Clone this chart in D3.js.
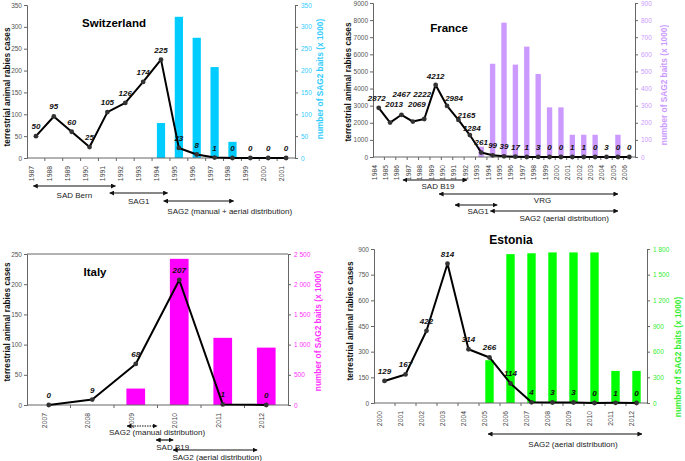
<!DOCTYPE html>
<html><head><meta charset="utf-8">
<script src="https://cdn.jsdelivr.net/npm/d3@7"></script>
<style>
body{margin:0;background:#fff}
svg{display:block}
text{font-family:"Liberation Sans",Arial,Helvetica,sans-serif}
</style>
</head><body>
<svg id="chart" width="685" height="461"></svg>
<script>
// ---------------- DATA ----------------
const swYears = ["1987","1988","1989","1990","1991","1992","1993","1994","1995","1996","1997","1998","1999","2000","2001"];
const swCases = [50,95,60,25,105,126,174,225,23,8,1,0,0,0,0];
const swBaits = [null,null,null,null,null,null,null,80,323,275,208,37,null,null,null];
const swLeftTicks = [0,50,100,150,200,250,300,350];
const swRightTicks = [0,50,100,150,200,250,300,350];
const swArrows = [["SAD Bern",1986.85,1991.45],["SAG1",1991.13,1994.37],["SAG2 (manual + aerial distribution)",1994.15,1998.07]];

const frYears = ["1984","1985","1986","1987","1988","1989","1990","1991","1992","1993","1994","1995","1996","1997","1998","1999","2000","2001","2002","2003","2004","2005","2006"];
const frCases = [2872,2013,2467,2069,2222,4212,2984,2165,1284,261,99,39,17,1,3,0,0,1,1,0,3,0,0];
const frBaits = [null,null,null,null,null,null,null,null,null,60,545,785,540,645,485,290,290,130,130,130,null,130,null];
const frLeftTicks = [0,1000,2000,3000,4000,5000,6000,7000,8000,9000];
const frRightTicks = [0,100,200,300,400,500,600,700,800,900];
const frArrows = [["SAD B19",1986.13,1991.75],["VRG",1989.3,2005.0],["SAG1",1990.7,1994.4],["SAG2 (aerial distribution)",1993.8,2005.0]];

const itYears = ["2007","2008","2009","2010","2011","2012"];
const itCases = [0,9,68,207,1,0];
const itBaits = [null,null,272,2420,1112,950];
const itLeftTicks = [0,50,100,150,200,250];
const itRightTicks = [0,500,1000,1500,2000,2500];
const itArrows = [["SAG2 (manual distribution)",2008.8,2009.49],["SAD B19",2009.47,2009.86],["SAG2 (aerial distribution)",2009.86,2011.79]];

const esYears = ["2000","2001","2002","2003","2004","2005","2006","2007","2008","2009","2010","2011","2012"];
const esCases = [129,167,422,814,314,266,114,4,3,3,0,1,0];
const esBaits = [null,null,null,null,null,500,1740,1750,1760,1760,1760,375,375];
const esLeftTicks = [0,150,300,450,600,750,900];
const esRightTicks = [0,300,600,900,1200,1500,1800];
const esArrows = [["SAG2 (aerial distribution)",2004.93,2012.26]];

// ---------------- LAYOUT / STYLE ----------------
const spaceLocale = d3.formatLocale({decimal:",", thousands:" ", grouping:[3], currency:["",""]});
const fmtSpace = spaceLocale.format(",d");
const fmtPlain = d3.format("d");

// label nudges (style): index -> [dx, dy]
const frLabelNudge = {0:[-2,-7],1:[4,-16],2:[0,-18],3:[4,-15],4:[-2,-22],5:[0,-6],6:[7,-5],7:[8,-2],8:[2,-4],9:[0,-7.5]};

const panels = [
  {title:"Switzerland", years:swYears, cases:swCases, baits:swBaits, lt:swLeftTicks, rt:swRightTicks, arrows:swArrows,
   color:"#00ccff", tickColor:"#33ccff", x0:27, x1:295, yTop:5, yBot:158, lMax:350, rMax:350, barFrac:0.46,
   titlePos:[114,27,11.5], lTitle:[7,87], rTitle:[320,79], topLine:false, fmtR:fmtPlain,
   arrowLayout:[[186,198,0],[193,204,0],[201,214,31]]},
  {title:"France", years:frYears, cases:frCases, baits:frBaits, lt:frLeftTicks, rt:frRightTicks, arrows:frArrows,
   color:"#cc99ff", tickColor:"#cc99ff", x0:373, x1:635, yTop:3, yBot:157, lMax:9000, rMax:900, barFrac:0.47,
   titlePos:[449,32,11.5], lTitle:[348,82], rTitle:[664,85], topLine:false, fmtR:fmtPlain, nudge:frLabelNudge,
   arrowLayout:[[180,189,3],[194,203,14],[205,214,2],[211,221,10]]},
  {title:"Italy", years:itYears, cases:itCases, baits:itBaits, lt:itLeftTicks, rt:itRightTicks, arrows:itArrows,
   color:"#ff00ff", tickColor:"#ff33ff", x0:27, x1:288, yTop:254, yBot:405, lMax:250, rMax:2500, barFrac:0.43,
   titlePos:[95,276,11.5], lTitle:[7,322], rTitle:[318,331], topLine:true, fmtR:fmtSpace, dotted:[0],
   arrowLayout:[[426,435,15],[440,450,8],[450,460,2]]},
  {title:"Estonia", years:esYears, cases:esCases, baits:esBaits, lt:esLeftTicks, rt:esRightTicks, arrows:esArrows,
   color:"#00ff00", tickColor:"#33ee33", x0:374, x1:647, yTop:249, yBot:403, lMax:900, rMax:1800, barFrac:0.4,
   titlePos:[511,244,12], lTitle:[350,321], rTitle:[678,357], topLine:false, fmtR:fmtSpace,
   arrowLayout:[[434,447,8]]}
];

const svg = d3.select("#chart");
const defs = svg.append("defs");
defs.append("marker").attr("id","ah").attr("viewBox","0 0 10 10").attr("refX",9).attr("refY",5)
  .attr("markerWidth",5).attr("markerHeight",5).attr("markerUnits","userSpaceOnUse").attr("orient","auto-start-reverse")
  .append("path").attr("d","M0,0L10,5L0,10z").attr("fill","#111");

const axisColor = "#666";

panels.forEach(p => {
  const g = svg.append("g");
  const x = d3.scaleBand().domain(p.years).range([p.x0, p.x1]);
  const first = +p.years[0], last = +p.years[p.years.length-1];
  const xf = d3.scaleLinear().domain([first-0.5, last+0.5]).range([p.x0, p.x1]);
  const yL = d3.scaleLinear().domain([0,p.lMax]).range([p.yBot,p.yTop]);
  const yR = d3.scaleLinear().domain([0,p.rMax]).range([p.yBot,p.yTop]);

  // bars
  const bw = x.bandwidth()*p.barFrac;
  g.selectAll("rect.bar").data(p.years.map((yr,i)=>({yr,v:p.baits[i]})).filter(d=>d.v!=null))
    .enter().append("rect")
    .attr("x", d=>x(d.yr)+x.bandwidth()/2-bw/2).attr("width", bw)
    .attr("y", d=>yR(d.v)).attr("height", d=>p.yBot-yR(d.v))
    .attr("fill", p.color);

  // axes
  const la = d3.axisLeft(yL).tickValues(p.lt).tickSize(3).tickPadding(2).tickFormat(fmtPlain);
  const lg = g.append("g").attr("transform",`translate(${p.x0},0)`).call(la);
  lg.select(".domain").attr("stroke",axisColor);
  lg.selectAll(".tick line").attr("stroke",axisColor);
  lg.selectAll("text").attr("font-size",6.5).attr("fill","#555").attr("font-family","Liberation Sans, Arial");

  const ra = d3.axisRight(yR).tickValues(p.rt).tickSize(3).tickPadding(3).tickFormat(p.fmtR);
  const rg = g.append("g").attr("transform",`translate(${p.x1},0)`).call(ra);
  rg.select(".domain").attr("stroke",axisColor);
  rg.selectAll(".tick line").attr("stroke",axisColor);
  rg.selectAll("text").attr("font-size",6.5).attr("fill",p.tickColor).attr("font-family","Liberation Sans, Arial");

  // bottom axis
  const ba = d3.axisBottom(x).tickSize(0).tickPadding(4);
  const bg = g.append("g").attr("transform",`translate(0,${p.yBot})`).call(ba);
  bg.select(".domain").attr("stroke",axisColor).attr("d",`M${p.x0},0H${p.x1}`);
  bg.selectAll("text").attr("font-size",6.8).attr("fill","#444").attr("font-family","Liberation Sans, Arial")
    .attr("transform","rotate(-90)").attr("text-anchor","end").attr("dx","-4").attr("dy","-0.3em").attr("y",0).attr("x",-4);
  // small boundary ticks
  g.selectAll("line.bt").data(p.years.slice(1)).enter().append("line")
    .attr("x1",d=>x(d)).attr("x2",d=>x(d)).attr("y1",p.yBot).attr("y2",p.yBot+3).attr("stroke",axisColor);

  if (p.topLine) g.append("line").attr("x1",p.x0).attr("x2",p.x1).attr("y1",p.yTop).attr("y2",p.yTop).attr("stroke",axisColor);

  // line
  const pts = p.years.map((yr,i)=>({yr,v:p.cases[i],i}));
  const line = d3.line().x(d=>x(d.yr)+x.bandwidth()/2).y(d=>yL(d.v));
  g.append("path").datum(pts).attr("d",line).attr("fill","none").attr("stroke","#000").attr("stroke-width",2).attr("stroke-linejoin","round");
  g.selectAll("circle.pt").data(pts).enter().append("circle")
    .attr("cx",d=>x(d.yr)+x.bandwidth()/2).attr("cy",d=>yL(d.v)).attr("r",2.4).attr("fill","#333");
  const nd = d => (p.nudge && p.nudge[d.i]) ? p.nudge[d.i] : [0,-7];
  g.selectAll("text.lab").data(pts).enter().append("text")
    .attr("x",d=>x(d.yr)+x.bandwidth()/2+nd(d)[0]).attr("y",d=>yL(d.v)+nd(d)[1])
    .attr("text-anchor","middle").attr("font-size",8).attr("font-weight","bold").attr("font-style","italic").attr("fill","#111")
    .text(d=>d.v);

  // titles
  g.append("text").attr("x",p.titlePos[0]).attr("y",p.titlePos[1]).attr("text-anchor","middle")
    .attr("font-size",p.titlePos[2]).attr("font-weight","bold").attr("fill","#000").text(p.title);
  g.append("text").attr("transform",`translate(${p.lTitle[0]},${p.lTitle[1]}) rotate(-90)`).attr("text-anchor","middle")
    .attr("dy","0.35em").attr("font-size",8.3).attr("font-weight","bold").attr("fill","#111").text("terrestrial animal rabies cases");
  g.append("text").attr("transform",`translate(${p.rTitle[0]},${p.rTitle[1]}) rotate(-90)`).attr("text-anchor","middle")
    .attr("dy","0.35em").attr("font-size",8.3).attr("font-weight","bold").attr("fill",p.tickColor).text("number of SAG2 baits  (x 1000)");

  // arrows
  p.arrows.forEach((a,i)=>{
    const [label,from,to] = a;
    const [ay, ly, ldx] = p.arrowLayout[i];
    const dotted = p.dotted && p.dotted.includes(i);
    g.append("line").attr("x1",xf(from)).attr("x2",xf(to)).attr("y1",ay).attr("y2",ay)
      .attr("stroke","#111").attr("stroke-width",1.2)
      .attr("stroke-dasharray",dotted?"1.5,1":null)
      .attr("marker-start","url(#ah)").attr("marker-end","url(#ah)");
    g.append("text").attr("x",(xf(from)+xf(to))/2+ldx).attr("y",ly).attr("text-anchor","middle")
      .attr("font-size",8).attr("fill","#222").text(label);
  });
});
</script>
</body></html>
